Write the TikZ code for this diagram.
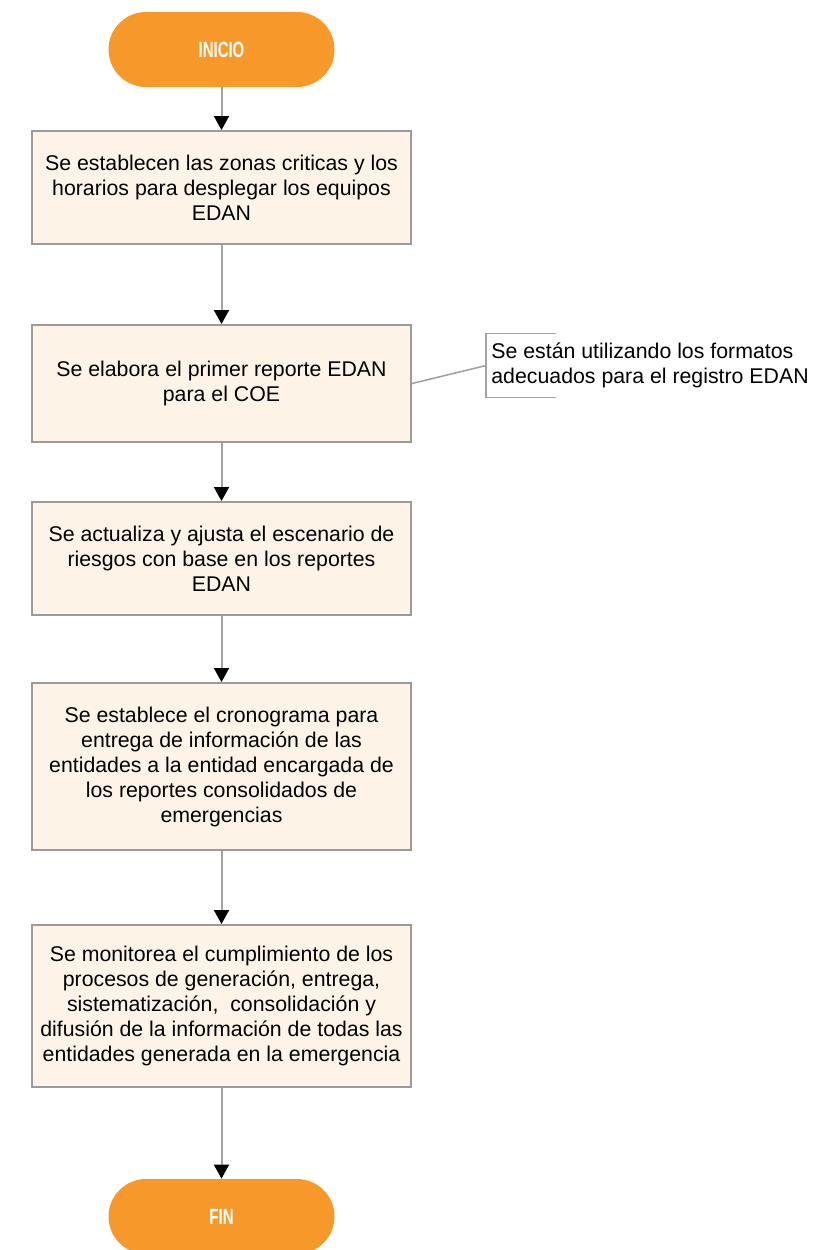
\documentclass[tikz,border=0pt]{standalone}
\usepackage{fontspec}
\setmainfont{Liberation Sans}
\newfontfamily\condfont[FakeStretch=0.68]{Liberation Sans Bold}
\usepackage{tikz}
\usetikzlibrary{positioning,arrows.meta}

\definecolor{naranja}{HTML}{F7992A}
\definecolor{crema}{HTML}{FDF4E7}
\definecolor{borde}{HTML}{9B9B9B}
\definecolor{linea}{HTML}{A3A3A3}

\begin{document}
\begin{tikzpicture}[x=0.5pt, y=-0.5pt,
    terminal/.style={fill=naranja, minimum width=113pt, minimum height=37.5pt,
        rounded corners=18.75pt, text=white, font=\condfont\fontsize{11}{12}\selectfont},
    paso/.style={draw=borde, line width=1pt, fill=crema, minimum width=189.5pt,
        align=center, font=\fontsize{10.65}{12.5}\selectfont},
    nota/.style={anchor=west, align=left, minimum height=31.5pt, inner xsep=2.5pt,
        font=\fontsize{10.65}{12.5}\selectfont},
    arr/.style={-{Triangle[length=7pt, width=7.5pt, color=black]}, draw=linea, line width=1pt},
    brk/.style={draw=linea, line width=0.8pt}
]
\useasboundingbox (0,0) rectangle (828,1250);

% start / end
\node[terminal] (inicio) at (221.5,49.5) {INICIO};
\node[terminal] (fin) at (221.5,1216.5) {FIN};

% process steps
\node[paso, minimum height=56.5pt] (b1) at (221.5,187.5)
    {Se establecen las zonas criticas y los\\horarios para desplegar los equipos\\EDAN};
\node[paso, minimum height=58.5pt] (b2) at (221.5,383.5)
    {Se elabora el primer reporte EDAN\\para el COE};
\node[paso, minimum height=56.5pt] (b3) at (221.5,558.5)
    {Se actualiza y ajusta el escenario de\\riesgos con base en los reportes\\EDAN};
\node[paso, minimum height=83.5pt] (b4) at (221.5,766.5)
    {Se establece el cronograma para\\entrega de informaci\'on de las\\entidades a la entidad encargada de\\los reportes consolidados de\\emergencias};
\node[paso, minimum height=81pt] (b5) at (221.5,1006)
    {Se monitorea el cumplimiento de los\\procesos de generaci\'on, entrega,\\sistematizaci\'on,\ \ consolidaci\'on y\\difusi\'on de la informaci\'on de todas las\\entidades generada en la emergencia};

% annotation
\node[nota] (obs) at (486,365.5)
    {Se est\'an utilizando los formatos\\adecuados para el registro EDAN};
\draw[brk] ([xshift=35pt]obs.north west) -- (obs.north west) -- (obs.south west) -- ([xshift=35pt]obs.south west);
\draw[brk] (b2.east) -- (obs.west);

% flow
\foreach \a/\b in {inicio/b1, b1/b2, b2/b3, b3/b4, b4/b5, b5/fin}
    \draw[arr] (\a) -- (\b);

\end{tikzpicture}
\end{document}
